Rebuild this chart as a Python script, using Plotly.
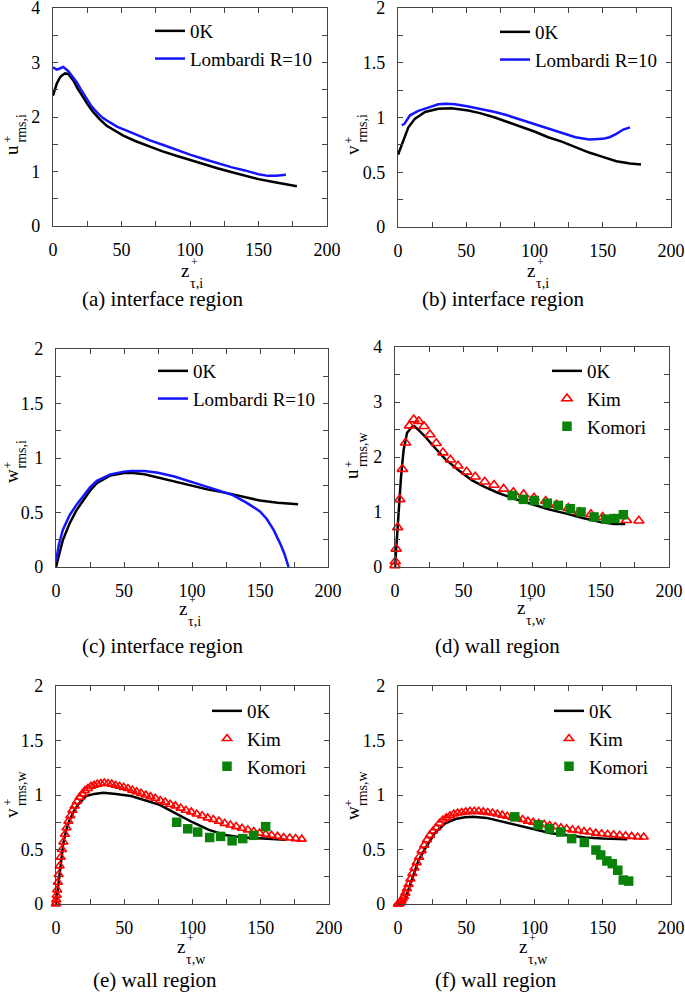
import plotly.graph_objects as go

# ---------------- data ----------------
# (a) u_rms interface region
a_x_0K = [0, 2.7, 5, 6.3, 8.8, 11.2, 14.8, 18, 22.1, 25, 29.4, 34, 39.2, 45, 51.3, 60, 70.8, 80, 90, 100, 110, 120, 130, 140, 150, 160, 170, 178]
a_y_0K = [2.39, 2.61, 2.72, 2.76, 2.80, 2.79, 2.67, 2.52, 2.36, 2.24, 2.09, 1.96, 1.84, 1.75, 1.66, 1.56, 1.45, 1.37, 1.29, 1.21, 1.13, 1.06, 0.99, 0.92, 0.86, 0.81, 0.76, 0.73]
a_x_L = [0, 2.7, 5, 7.5, 11.2, 14, 17.3, 20, 24.6, 28, 31.9, 36, 41.6, 47, 53.8, 60, 70.8, 80, 85.4, 90, 100, 110, 120, 130, 140, 150, 157, 163, 170]
a_y_L = [2.91, 2.87, 2.89, 2.92, 2.84, 2.75, 2.64, 2.52, 2.33, 2.20, 2.09, 1.99, 1.90, 1.82, 1.75, 1.68, 1.57, 1.49, 1.44, 1.40, 1.31, 1.23, 1.15, 1.08, 1.02, 0.95, 0.92, 0.92, 0.94]

# (b) v_rms interface region
b_x_0K = [0, 3.9, 7.6, 12.5, 19.8, 29.5, 39.3, 51.5, 60, 71, 80, 90, 100.4, 110, 120, 130, 140, 150, 160, 170, 178]
b_y_0K = [0.66, 0.79, 0.91, 0.99, 1.05, 1.08, 1.085, 1.064, 1.04, 1.00, 0.96, 0.92, 0.87, 0.82, 0.78, 0.73, 0.68, 0.64, 0.60, 0.58, 0.57]
b_x_L = [2.7, 4.6, 8.8, 14.9, 22.2, 29.5, 35, 41.8, 51.5, 60, 71, 80, 90, 100.4, 110, 120, 130, 140, 145, 150, 155, 160, 165, 170]
b_y_L = [0.93, 0.94, 1.02, 1.06, 1.09, 1.12, 1.125, 1.12, 1.10, 1.08, 1.05, 1.02, 0.98, 0.94, 0.90, 0.86, 0.82, 0.80, 0.80, 0.805, 0.82, 0.85, 0.89, 0.91]

# (c) w_rms interface region
c_x_0K = [0, 2, 5, 10, 15, 20, 25, 30, 40, 50, 55, 65, 75, 87, 100, 112, 125, 137, 150, 163, 178]
c_y_0K = [0, 0.1, 0.245, 0.40, 0.52, 0.61, 0.70, 0.77, 0.84, 0.863, 0.865, 0.85, 0.82, 0.78, 0.74, 0.71, 0.68, 0.645, 0.61, 0.59, 0.575]
c_x_L = [0, 2, 5, 10, 15, 20, 25, 30, 40, 50, 55, 65, 75, 87, 100, 110, 120, 130, 140, 150, 155, 160, 165, 168, 171]
c_y_L = [0.05, 0.2, 0.34, 0.475, 0.57, 0.65, 0.73, 0.79, 0.85, 0.875, 0.88, 0.88, 0.865, 0.83, 0.775, 0.74, 0.70, 0.66, 0.59, 0.51, 0.44, 0.34, 0.21, 0.12, 0.0]

# (d) u_rms wall region
d_x_0K = [0, 1, 2.7, 4.4, 6.3, 8.8, 12.4, 14, 17.3, 22, 29.4, 36.7, 46.4, 56, 65, 75, 87, 100, 112, 125, 137, 150, 160, 168]
d_y_0K = [0, 0.37, 0.92, 1.64, 2.13, 2.44, 2.55, 2.56, 2.49, 2.37, 2.16, 1.96, 1.76, 1.58, 1.46, 1.35, 1.24, 1.14, 1.05, 0.97, 0.89, 0.82, 0.78, 0.78]
d_x_Kim = [0, 0.22, 0.87, 1.95, 3.46, 5.39, 7.74, 10.5, 13.7, 17.3, 21.2, 25.5, 30.1, 35.0, 40.5, 46.0, 52.3, 58.6, 65.5, 72.3, 79.3, 86.4, 93.9, 101.5, 110, 118, 126.5, 134.5, 143, 151.6, 160, 169, 178]
d_y_Kim = [0.03, 0.1, 0.33, 0.72, 1.23, 1.78, 2.26, 2.57, 2.68, 2.65, 2.56, 2.41, 2.25, 2.08, 1.95, 1.84, 1.73, 1.64, 1.55, 1.49, 1.42, 1.36, 1.32, 1.26, 1.20, 1.13, 1.07, 1.00, 0.96, 0.91, 0.87, 0.85, 0.84]
d_x_Kom = [85.6, 93.7, 101.7, 111.2, 119.2, 128, 135.8, 145.3, 153.8, 160, 166.7]
d_y_Kom = [1.30, 1.23, 1.21, 1.16, 1.12, 1.06, 1.00, 0.91, 0.87, 0.88, 0.95]

# Kim et al. wall-normal positions (dense grid), used in (e) and (f)
kim_x = [0, 0.05, 0.22, 0.49, 0.87, 1.35, 1.95, 2.65, 3.46, 4.37, 5.39, 6.52, 7.75, 9.09, 10.52,
         12.06, 13.7, 15.44, 17.28, 19.22, 21.25, 23.38, 25.61, 27.93, 30.34, 32.84, 35.42, 38.1,
         40.85, 43.69, 46.62, 49.62, 52.72, 55.87, 59.11, 62.42, 65.81, 69.25, 72.77, 76.34, 80.0,
         83.71, 87.46, 91.29, 95.15, 99.07, 103.04, 107.05, 111.12, 115.2, 119.36, 123.54, 127.75,
         131.97, 136.25, 140.53, 144.88, 149.16, 153.59, 157.93, 162.36, 166.74, 171.17, 175.58, 180.0]

# (e) v_rms wall region
e_x_0K = [0, 2, 3.5, 5.4, 7.5, 10, 13, 16, 22, 28, 34.6, 44, 55, 65, 76, 88, 100, 112, 125, 137, 150, 160, 168]
e_y_0K = [0, 0.22, 0.40, 0.56, 0.68, 0.77, 0.85, 0.91, 0.99, 1.01, 1.02, 1.01, 0.99, 0.955, 0.91, 0.83, 0.75, 0.68, 0.63, 0.61, 0.60, 0.595, 0.59]
e_y_Kim = [0, 0.01, 0.04, 0.08, 0.13, 0.2, 0.27, 0.35, 0.43, 0.5, 0.57, 0.64, 0.7, 0.76, 0.81,
           0.86, 0.90, 0.94, 0.98, 1.01, 1.04, 1.06, 1.08, 1.09, 1.10, 1.105, 1.11, 1.105,
           1.10, 1.09, 1.08, 1.07, 1.06, 1.045, 1.03, 1.015, 1.0, 0.985, 0.97, 0.95, 0.935,
           0.915, 0.90, 0.88, 0.86, 0.845, 0.825, 0.81, 0.79, 0.775, 0.76, 0.74, 0.725,
           0.71, 0.695, 0.68, 0.665, 0.65, 0.64, 0.63, 0.62, 0.61, 0.605, 0.60, 0.595]
e_x_Kom = [88.4, 96.5, 103.8, 112.6, 120.6, 129, 136.8, 144.8, 153.6]
e_y_Kom = [0.75, 0.69, 0.66, 0.61, 0.62, 0.58, 0.60, 0.63, 0.71]

# (f) w_rms wall region
f_x_0K = [0, 3, 5.4, 10, 15, 20, 27, 34.6, 42, 49, 55, 65, 75, 88, 100, 112, 125, 137, 150, 160, 168]
f_y_0K = [0, 0.01, 0.05, 0.22, 0.40, 0.51, 0.65, 0.74, 0.78, 0.795, 0.80, 0.79, 0.76, 0.72, 0.68, 0.65, 0.63, 0.61, 0.60, 0.595, 0.595]
f_y_Kim = [0, 0, 0, 0, 0.003, 0.008, 0.015, 0.03, 0.05, 0.07, 0.10, 0.14, 0.18, 0.23, 0.28,
           0.33, 0.38, 0.43, 0.49, 0.54, 0.59, 0.63, 0.67, 0.70, 0.74, 0.77, 0.79, 0.81,
           0.825, 0.835, 0.84, 0.845, 0.85, 0.85, 0.85, 0.845, 0.84, 0.835, 0.825, 0.815, 0.805,
           0.795, 0.785, 0.775, 0.76, 0.75, 0.74, 0.73, 0.72, 0.71, 0.70, 0.69, 0.68,
           0.675, 0.665, 0.66, 0.65, 0.645, 0.64, 0.635, 0.63, 0.625, 0.62, 0.615, 0.615]
f_x_Kom = [85.5, 102.6, 110.9, 119.2, 127.2, 136.5, 145, 148.5, 153, 157, 161, 165, 169]
f_y_Kom = [0.80, 0.725, 0.69, 0.66, 0.60, 0.565, 0.495, 0.45, 0.395, 0.37, 0.31, 0.22, 0.21]

x_ticks = [0, 50, 100, 150, 200]
captions = ["(a) interface region", "(b) interface region", "(c) interface region",
            "(d) wall region", "(e) wall region", "(f) wall region"]

# ---------------- layout helpers ----------------
W, H = 685, 992
FONT = "Times New Roman, serif"
BLUE = "#1414ff"
RED = "#ff0000"
GREEN = "#0a820a"
AXC = "#444444"


def px(x):
    return x / W


def py(y):
    return 1 - y / H


# pixel boxes: left, right, top, bottom
boxes = [(53, 327, 8, 226), (398, 671, 8, 227), (56, 328, 349, 567),
         (395, 669, 347, 567), (56, 329, 686, 904), (398, 671, 686, 904)]
ymax = [4, 2, 2, 4, 2, 2]
ylet = ["u", "v", "w", "u", "v", "w"]
ysub = ["rms,i", "rms,i", "rms,i", "rms,w", "rms,w", "rms,w"]
xsub = ["τ,i", "τ,i", "τ,i", "τ,w", "τ,w", "τ,w"]
xtitle_pos = [(185, 270), (531, 270), (183, 608), (521, 607), (181, 946), (523, 946)]
ytitle_pos = [(11, 150), (352, 150), (11, 476), (352, 474), (11, 813), (352, 813)]
cap_pos = [(162, 299), (504, 299), (162, 646), (497, 646), (155, 980), (496, 980)]
leg_pos = [(150, 12), (495, 13), (153, 352), (547, 352), (207, 692), (549, 692)]

fig = go.Figure()


def line_trace(x, y, name, color, k, leg):
    return go.Scatter(x=x, y=y, mode="lines", name=name,
                      line=dict(color=color, width=2.5),
                      xaxis=f"x{k}" if k > 1 else "x", yaxis=f"y{k}" if k > 1 else "y",
                      legend=leg, cliponaxis=False)


def kim_trace(x, y, k, leg, size):
    return go.Scatter(x=x, y=y, mode="markers", name="Kim",
                      marker=dict(symbol="triangle-up-open", color=RED, size=size,
                                  line=dict(width=1.6, color=RED)),
                      xaxis=f"x{k}", yaxis=f"y{k}", legend=leg, cliponaxis=False)


def kom_trace(x, y, k, leg):
    return go.Scatter(x=x, y=y, mode="markers", name="Komori",
                      marker=dict(symbol="square", color=GREEN, size=9.5,
                                  line=dict(width=0)),
                      xaxis=f"x{k}", yaxis=f"y{k}", legend=leg, cliponaxis=False)


legs = ["legend", "legend2", "legend3", "legend4", "legend5", "legend6"]

fig.add_trace(line_trace(a_x_0K, a_y_0K, "0K", "black", 1, legs[0]))
fig.add_trace(line_trace(a_x_L, a_y_L, "Lombardi R=10", BLUE, 1, legs[0]))
fig.add_trace(line_trace(b_x_0K, b_y_0K, "0K", "black", 2, legs[1]))
fig.add_trace(line_trace(b_x_L, b_y_L, "Lombardi R=10", BLUE, 2, legs[1]))
fig.add_trace(line_trace(c_x_0K, c_y_0K, "0K", "black", 3, legs[2]))
fig.add_trace(line_trace(c_x_L, c_y_L, "Lombardi R=10", BLUE, 3, legs[2]))
fig.add_trace(line_trace(d_x_0K, d_y_0K, "0K", "black", 4, legs[3]))
fig.add_trace(kim_trace(d_x_Kim, d_y_Kim, 4, legs[3], 9))
fig.add_trace(kom_trace(d_x_Kom, d_y_Kom, 4, legs[3]))
fig.add_trace(line_trace(e_x_0K, e_y_0K, "0K", "black", 5, legs[4]))
fig.add_trace(kim_trace(kim_x, e_y_Kim, 5, legs[4], 8))
fig.add_trace(kom_trace(e_x_Kom, e_y_Kom, 5, legs[4]))
fig.add_trace(line_trace(f_x_0K, f_y_0K, "0K", "black", 6, legs[5]))
fig.add_trace(kim_trace(kim_x, f_y_Kim, 6, legs[5], 8))
fig.add_trace(kom_trace(f_x_Kom, f_y_Kom, 6, legs[5]))

layout = dict(width=W, height=H, margin=dict(l=0, r=0, t=0, b=0, autoexpand=False),
              paper_bgcolor="white", plot_bgcolor="white",
              font=dict(family=FONT, size=18, color="black"),
              showlegend=True)


def ann(text, x, y, size, xanchor="center", yanchor="middle", angle=0):
    return dict(text=text, x=px(x), y=py(y), xref="paper", yref="paper",
                xanchor=xanchor, yanchor=yanchor, textangle=angle, showarrow=False,
                font=dict(family=FONT, size=size, color="black"))


annotations = []
for i in range(6):
    k = i + 1
    l, r, t, b = boxes[i]
    xa = "xaxis" if k == 1 else f"xaxis{k}"
    ya = "yaxis" if k == 1 else f"yaxis{k}"
    xname = "x" if k == 1 else f"x{k}"
    yname = "y" if k == 1 else f"y{k}"
    common = dict(showline=True, mirror="ticks", linecolor=AXC, linewidth=1.3,
                  ticks="inside", ticklen=5, tickwidth=1.2, tickcolor=AXC,
                  showgrid=False, zeroline=False, fixedrange=True, automargin=False,
                  ticklabeloverflow="allow",
                  tickfont=dict(family=FONT, size=18, color="black"))
    yd = 1 if ymax[i] == 4 else 0.5
    layout[xa] = dict(domain=[px(l), px(r)], range=[0, 200], anchor=yname,
                      tickvals=x_ticks, ticklabelstandoff=7,
                      minor=dict(ticks="inside", ticklen=5, tickwidth=1.2, tickcolor=AXC, dtick=25, tick0=0),
                      **common)
    layout[ya] = dict(domain=[py(b), py(t)], range=[0, ymax[i]], anchor=xname,
                      dtick=yd, tick0=0, ticklabelstandoff=8,
                      minor=dict(ticks="inside", ticklen=5, tickwidth=1.2, tickcolor=AXC, dtick=yd / 2, tick0=0),
                      **common)
    # x title: z with stacked sup/sub
    cx, cy = xtitle_pos[i]
    annotations.append(ann("z", cx, cy, 19))
    annotations.append(ann("+", cx + 4, cy - 8, 12, xanchor="left"))
    annotations.append(ann(xsub[i], cx + 3, cy + 13, 14, xanchor="left"))
    # y title rotated
    cx, cy = ytitle_pos[i]
    annotations.append(ann(ylet[i], cx, cy, 19, angle=-90))
    annotations.append(ann("+", cx - 4, cy - 5, 12, yanchor="bottom", angle=-90))
    annotations.append(ann(ysub[i], cx + 10, cy - 5, 14, yanchor="bottom", angle=-90))
    # caption
    cx, cy = cap_pos[i]
    annotations.append(ann(captions[i], cx, cy, 21))
    # legend
    lx, ly = leg_pos[i]
    layout[legs[i]] = dict(x=px(lx), y=py(ly), xanchor="left", yanchor="top",
                           bgcolor="rgba(255,255,255,0)", borderwidth=0,
                           font=dict(family=FONT, size=19), tracegroupgap=0,
                           itemwidth=30)

layout["annotations"] = annotations
fig.update_layout(**layout)
fig.write_html("out.html",
               config={"displayModeBar": False},
               post_script="document.body.style.margin='0';document.body.style.overflow='hidden';")
